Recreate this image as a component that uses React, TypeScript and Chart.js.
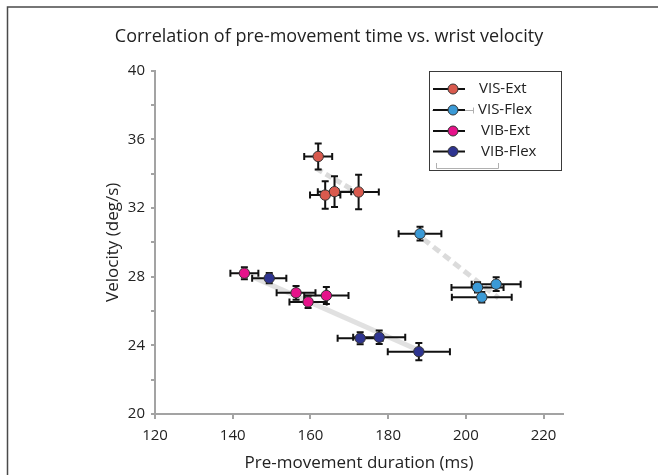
import React, { useEffect, useRef } from "react";
import { Chart, registerables } from "chart.js";

Chart.register(...registerables);

const FONT = "'Open Sans', sans-serif";

const TITLE = "Correlation of pre-movement time vs. wrist velocity";
const X_TITLE = "Pre-movement duration (ms)";
const Y_TITLE = "Velocity (deg/s)";

const X_MIN = 120;
const X_MAX = 225;
const xTickValues = [120, 140, 160, 180, 200, 220];
const Y_MIN = 20;
const Y_MAX = 40;
const Y_MINOR_STEP = 2;
const Y_LABEL_STEP = 4;

const seriesNames = ["VIS-Ext", "VIS-Flex", "VIB-Ext", "VIB-Flex"];
const seriesColors = ["#d95a4e", "#3b9ad6", "#e6128a", "#2e3490"];

const visExtX = [162.0, 163.8, 166.2, 172.4];
const visExtY = [35.0, 32.75, 32.95, 32.93];
const visExtXErr = [3.6, 3.9, 4.3, 5.2];
const visExtYErr = [0.76, 0.8, 0.9, 1.0];

const visFlexX = [188.2, 203.0, 207.8, 204.1];
const visFlexY = [30.5, 27.37, 27.56, 26.8];
const visFlexXErr = [5.5, 6.7, 6.3, 7.7];
const visFlexYErr = [0.4, 0.3, 0.4, 0.3];

const vibExtX = [143.0, 156.3, 159.4, 164.1];
const vibExtY = [28.2, 27.06, 26.53, 26.9];
const vibExtXErr = [3.6, 5.0, 4.8, 5.7];
const vibExtYErr = [0.35, 0.4, 0.35, 0.5];

const vibFlexX = [149.4, 172.8, 177.7, 187.9];
const vibFlexY = [27.91, 24.41, 24.47, 23.63];
const vibFlexXErr = [4.4, 5.8, 6.7, 8.0];
const vibFlexYErr = [0.3, 0.35, 0.4, 0.5];

// trend line endpoints [x0, x1], [y0, y1]
const visExtTrendX = [161.5, 172.0];
const visExtTrendY = [34.3, 32.9];
const visFlexTrendX = [189.0, 208.4];
const visFlexTrendY = [30.2, 26.76];
const vibTrendX = [145.0, 188.0];
const vibTrendY = [28.0, 23.7];

const AXIS_COLOR = "#a3a3a3";
const TEXT_COLOR = "#222222";

function pts(xs: number[], ys: number[]) {
  return xs.map((x, i) => ({ x, y: ys[i] }));
}

const errorBarPlugin = {
  id: "errorBars",
  beforeDatasetDraw(chart: any, args: any) {
    const ds = chart.data.datasets[args.index];
    if (!ds.xErr) return;
    const xs = chart.scales.x;
    const ys = chart.scales.y;
    const ctx = chart.ctx;
    ctx.save();
    ctx.strokeStyle = "#111";
    ctx.lineWidth = 2;
    const cap = 3.5;
    ds.data.forEach((p: any, i: number) => {
      const px = xs.getPixelForValue(p.x);
      const py = ys.getPixelForValue(p.y);
      const x0 = xs.getPixelForValue(p.x - ds.xErr[i]);
      const x1 = xs.getPixelForValue(p.x + ds.xErr[i]);
      const y0 = ys.getPixelForValue(p.y - ds.yErr[i]);
      const y1 = ys.getPixelForValue(p.y + ds.yErr[i]);
      ctx.beginPath();
      ctx.moveTo(x0, py);
      ctx.lineTo(x1, py);
      ctx.moveTo(x0, py - cap);
      ctx.lineTo(x0, py + cap);
      ctx.moveTo(x1, py - cap);
      ctx.lineTo(x1, py + cap);
      ctx.moveTo(px, y0);
      ctx.lineTo(px, y1);
      ctx.moveTo(px - cap, y0);
      ctx.lineTo(px + cap, y0);
      ctx.moveTo(px - cap, y1);
      ctx.lineTo(px + cap, y1);
      ctx.stroke();
    });
    ctx.restore();
  },
};

const legendFramePlugin = {
  id: "legendFrame",
  afterDraw(chart: any) {
    const ctx = chart.ctx;
    ctx.save();
    // outer frame (top and left)
    ctx.strokeStyle = "#4a4a4a";
    ctx.lineWidth = 1.5;
    ctx.beginPath();
    ctx.moveTo(7.5, 475);
    ctx.lineTo(7.5, 7);
    ctx.lineTo(658, 7);
    ctx.stroke();

    // legend box
    const bx = 429.5, by = 71.5, bw = 132, bh = 99;
    ctx.fillStyle = "#fff";
    ctx.fillRect(bx, by, bw, bh);
    ctx.strokeStyle = "#3a3a3a";
    ctx.lineWidth = 1;
    ctx.strokeRect(bx, by, bw, bh);

    // faint artifacts
    ctx.strokeStyle = "#b0b0b0";
    ctx.lineWidth = 1;
    ctx.beginPath();
    ctx.moveTo(432, 110.5);
    ctx.lineTo(473.5, 110.5);
    ctx.moveTo(473.5, 107.5);
    ctx.lineTo(473.5, 113.5);
    ctx.moveTo(436.5, 168.5);
    ctx.lineTo(498.5, 168.5);
    ctx.moveTo(436.5, 163);
    ctx.lineTo(436.5, 168.5);
    ctx.moveTo(498.5, 163);
    ctx.lineTo(498.5, 168.5);
    ctx.stroke();

    const rowY = [89, 110, 131, 151.5];
    const textX = [479, 478, 481, 481];
    seriesNames.forEach((name, i) => {
      const y = rowY[i];
      ctx.strokeStyle = "#111";
      ctx.lineWidth = 2;
      ctx.beginPath();
      ctx.moveTo(433, y);
      ctx.lineTo(465, y);
      ctx.stroke();
      ctx.beginPath();
      ctx.arc(453, y, 5, 0, Math.PI * 2);
      ctx.fillStyle = seriesColors[i];
      ctx.fill();
      ctx.lineWidth = 1;
      ctx.strokeStyle = "#333";
      ctx.stroke();
      ctx.fillStyle = TEXT_COLOR;
      ctx.font = `15px ${FONT}`;
      ctx.textBaseline = "middle";
      ctx.textAlign = "left";
      ctx.fillText(name, textX[i], y);
    });
    ctx.restore();
  },
};

export default function App() {
  const ref = useRef<HTMLCanvasElement | null>(null);

  useEffect(() => {
    if (!ref.current) return;
    const pointSets = [
      { x: visExtX, y: visExtY, xe: visExtXErr, ye: visExtYErr },
      { x: visFlexX, y: visFlexY, xe: visFlexXErr, ye: visFlexYErr },
      { x: vibExtX, y: vibExtY, xe: vibExtXErr, ye: vibExtYErr },
      { x: vibFlexX, y: vibFlexY, xe: vibFlexXErr, ye: vibFlexYErr },
    ];
    const pointDatasets: any[] = pointSets.map((s, i) => ({
      label: seriesNames[i],
      data: pts(s.x, s.y),
      xErr: s.xe,
      yErr: s.ye,
      backgroundColor: seriesColors[i],
      borderColor: "#333",
      borderWidth: 1,
      pointRadius: 5.2,
      showLine: false,
      order: 0,
    }));
    const trend = (xs: number[], ys: number[], dash: number[], color: string) => ({
      label: "trend",
      data: pts(xs, ys),
      showLine: true,
      pointRadius: 0,
      borderColor: color,
      borderWidth: 5,
      borderDash: dash,
      borderCapStyle: "butt",
      order: 10,
    });
    const chart = new Chart(ref.current, {
      type: "scatter",
      data: {
        datasets: [
          ...pointDatasets,
          trend(visExtTrendX, visExtTrendY, [7, 4], "rgba(215,215,215,0.9)"),
          trend(visFlexTrendX, visFlexTrendY, [8, 5], "rgba(215,215,215,0.9)"),
          trend(vibTrendX, vibTrendY, [], "rgba(222,222,222,0.9)"),
        ] as any,
      },
      options: {
        animation: false,
        responsive: false,
        layout: { padding: 0 },
        plugins: {
          legend: { display: false },
          tooltip: { enabled: false },
          title: {
            display: true,
            text: TITLE,
            color: TEXT_COLOR,
            font: { family: FONT, size: 18, weight: "normal" },
            padding: { top: 26, bottom: 23 },
          },
        },
        scales: {
          x: {
            type: "linear",
            min: X_MIN,
            max: X_MAX,
            afterBuildTicks: (scale: any) => {
              scale.ticks = xTickValues.map((v) => ({ value: v }));
            },
            afterFit: (scale: any) => {
              scale.height = 61;
            },
            ticks: {
              autoSkip: false,
              maxRotation: 0,
              color: TEXT_COLOR,
              font: { family: FONT, size: 15 },
              padding: 8,
            },
            grid: {
              drawOnChartArea: false,
              drawTicks: true,
              tickLength: 5,
              color: AXIS_COLOR,
              lineWidth: 2,
            },
            border: { color: AXIS_COLOR, width: 2 },
            title: {
              display: true,
              text: X_TITLE,
              color: TEXT_COLOR,
              font: { family: FONT, size: 17 },
              padding: { top: 0, bottom: 2 },
            },
          },
          y: {
            type: "linear",
            min: Y_MIN,
            max: Y_MAX,
            afterFit: (scale: any) => {
              scale.width = 155;
            },
            ticks: {
              stepSize: Y_MINOR_STEP,
              autoSkip: false,
              color: TEXT_COLOR,
              font: { family: FONT, size: 15 },
              padding: 6,
              callback: (v: any) => (Number(v) % Y_LABEL_STEP === 0 ? String(v) : ""),
            },
            grid: {
              drawOnChartArea: false,
              drawTicks: true,
              tickLength: 4,
              color: AXIS_COLOR,
              lineWidth: 2,
            },
            border: { color: AXIS_COLOR, width: 2 },
            title: {
              display: true,
              text: Y_TITLE,
              color: TEXT_COLOR,
              font: { family: FONT, size: 17 },
              padding: { top: 103, bottom: 0 },
            },
          },
          spacer: {
            type: "linear",
            position: "right",
            display: true,
            afterFit: (scale: any) => {
              scale.width = 95;
            },
            ticks: { display: false },
            grid: { display: false, drawTicks: false },
            border: { display: false },
          },
        },
      } as any,
      plugins: [errorBarPlugin, legendFramePlugin],
    });
    return () => chart.destroy();
  }, []);

  return (
    <div style={{ position: "absolute", left: 0, top: 0, width: 658, height: 475, background: "#fff" }}>
      <canvas ref={ref} width={658} height={475} style={{ display: "block" }} />
    </div>
  );
}
